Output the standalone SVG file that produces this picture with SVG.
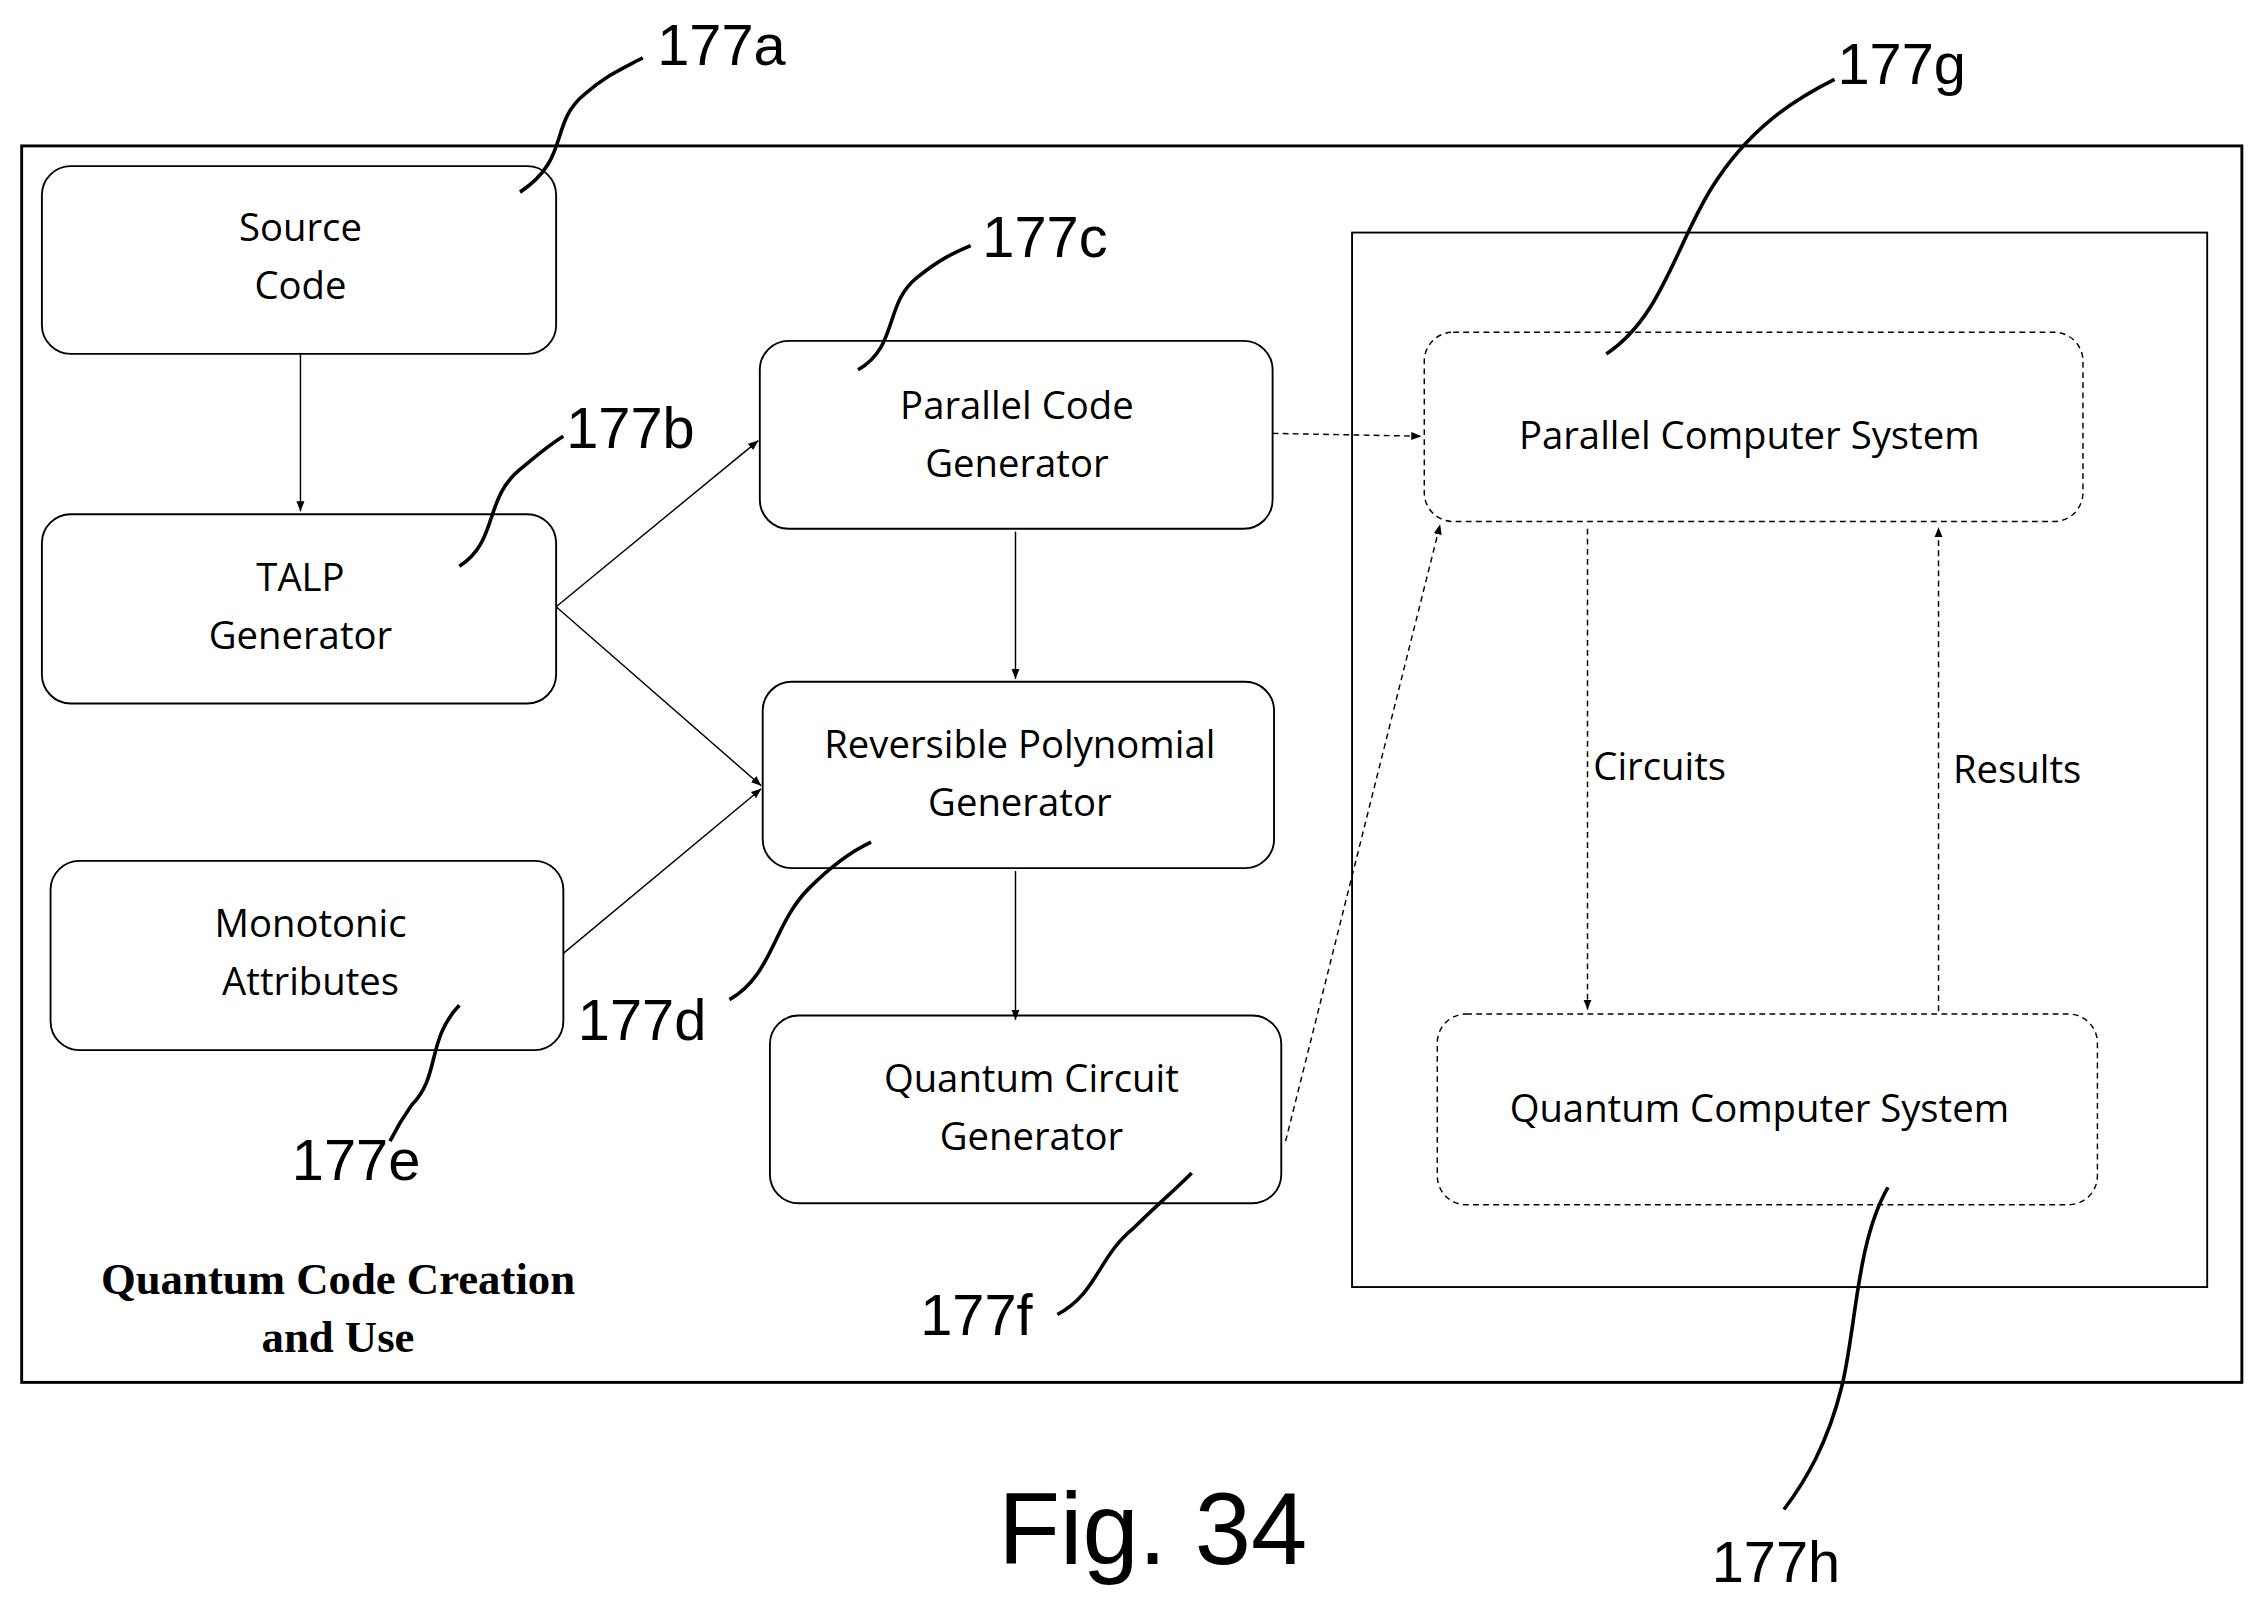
<svg xmlns="http://www.w3.org/2000/svg" width="2265" height="1608" viewBox="0 0 2265 1608">
<defs>
<style>
.b{fill:none;stroke:#000;stroke-width:1.3}
.d{fill:none;stroke:#000;stroke-width:1;stroke-dasharray:4,3}
.t{font-family:"Open Sans","DejaVu Sans",sans-serif;font-size:26.5px;text-anchor:middle;fill:#000}
.n{font-family:"Liberation Sans",Arial,sans-serif;font-size:40px;fill:#000}
.l{fill:none;stroke:#000;stroke-width:2.5}
.c{fill:none;stroke:#000;stroke-width:1}
</style>
<marker id="a" viewBox="0 0 10 10" refX="10" refY="5" markerWidth="7" markerHeight="7" orient="auto" markerUnits="userSpaceOnUse"><path d="M0,1 L10,5 L0,9 z" fill="#000"/></marker>
</defs>
<rect width="2265" height="1608" fill="#fff"/>
<g transform="scale(1.4445)">
<rect x="15" y="101" width="1537" height="856" fill="none" stroke="#000" stroke-width="2"/>
<rect x="936" y="161" width="592" height="730" fill="none" stroke="#000" stroke-width="1.3"/>
<g id="source"><rect class="b" x="29" y="115" width="356" height="130" rx="20"/><text class="t" x="208" y="167">Source</text><text class="t" x="208" y="207">Code</text></g>
<g id="talp"><rect class="b" x="29" y="356" width="356" height="131" rx="20"/><text class="t" x="208" y="409">TALP</text><text class="t" x="208" y="449">Generator</text></g>
<g id="mono"><rect class="b" x="35" y="596" width="355" height="131" rx="20"/><text class="t" x="215" y="649">Monotonic</text><text class="t" x="215" y="689">Attributes</text></g>
<g id="pcg"><rect class="b" x="526" y="236" width="355" height="130" rx="20"/><text class="t" x="704" y="290">Parallel Code</text><text class="t" x="704" y="330">Generator</text></g>
<g id="rpg"><rect class="b" x="528" y="472" width="354" height="129" rx="20"/><text class="t" x="706" y="525">Reversible Polynomial</text><text class="t" x="706" y="565">Generator</text></g>
<g id="qcg"><rect class="b" x="533" y="703" width="354" height="130" rx="20"/><text class="t" x="714" y="756">Quantum Circuit</text><text class="t" x="714" y="796">Generator</text></g>
<g id="pcs"><rect class="d" x="986" y="230" width="456" height="131" rx="20"/><text class="t" x="1211" y="311">Parallel Computer System</text></g>
<g id="qcs"><rect class="d" x="995" y="702" width="457" height="132" rx="20"/><text class="t" x="1218" y="777">Quantum Computer System</text></g>
<g id="connectors">
<line class="c" x1="208" y1="245" x2="208" y2="354" marker-end="url(#a)"/>
<line class="c" x1="385" y1="420" x2="525" y2="305" marker-end="url(#a)"/>
<line class="c" x1="385" y1="420" x2="527" y2="544" marker-end="url(#a)"/>
<line class="c" x1="390" y1="660" x2="527" y2="546" marker-end="url(#a)"/>
<line class="c" x1="703" y1="368" x2="703" y2="470" marker-end="url(#a)"/>
<line class="c" x1="703" y1="603" x2="703" y2="706" marker-end="url(#a)"/>
<line class="d" x1="881" y1="300" x2="984" y2="302" marker-end="url(#a)"/>
<line class="d" x1="890" y1="790" x2="997" y2="363" marker-end="url(#a)"/>
<line class="d" x1="1099" y1="366" x2="1099" y2="699" marker-end="url(#a)"/>
<line class="d" x1="1342" y1="700" x2="1342" y2="365" marker-end="url(#a)"/>
<text class="t" x="1103" y="540" style="text-anchor:start">Circuits</text>
<text class="t" x="1352" y="542" style="text-anchor:start">Results</text>
</g>
<g id="refs">
<path class="l" d="M360,133 C395,110 380,85 405,65 C420,52 430,48 445,40"/><text class="n" x="455" y="45">177a</text>
<path class="l" d="M318,392 C345,375 335,345 360,325 C372,315 380,308 390,302"/><text class="n" x="392" y="310">177b</text>
<path class="l" d="M594,256 C622,240 612,210 635,192 C650,180 660,175 672,170"/><text class="n" x="680" y="178">177c</text>
<path class="l" d="M505,692 C535,675 535,640 560,615 C575,600 588,590 603,583"/><text class="n" x="400" y="720">177d</text>
<path class="l" d="M318,696 C295,720 305,745 285,765 C280,772 275,780 270,790"/><text class="n" x="202" y="817">177e</text>
<path class="l" d="M732,910 C760,895 760,870 785,850 C800,835 812,825 825,812"/><text class="n" x="637" y="924">177f</text>
<path class="l" d="M1112,245 C1150,220 1160,170 1185,130 C1210,90 1240,70 1270,55"/><text class="n" x="1272" y="58">177g</text>
<path class="l" d="M1307,822 C1285,860 1285,920 1275,960 C1265,1000 1250,1025 1235,1045"/><text class="n" x="1185" y="1095">177h</text>
</g>
<text x="234" y="896" style="font-family:'Liberation Serif','Times New Roman',serif;font-weight:bold;font-size:31px;text-anchor:middle">Quantum Code Creation</text>
<text x="234" y="936" style="font-family:'Liberation Serif','Times New Roman',serif;font-weight:bold;font-size:31px;text-anchor:middle">and Use</text>
<text x="798" y="1083" style="font-family:'Liberation Sans',Arial,sans-serif;font-size:70px;text-anchor:middle">Fig. 34</text>
</g>
</svg>
